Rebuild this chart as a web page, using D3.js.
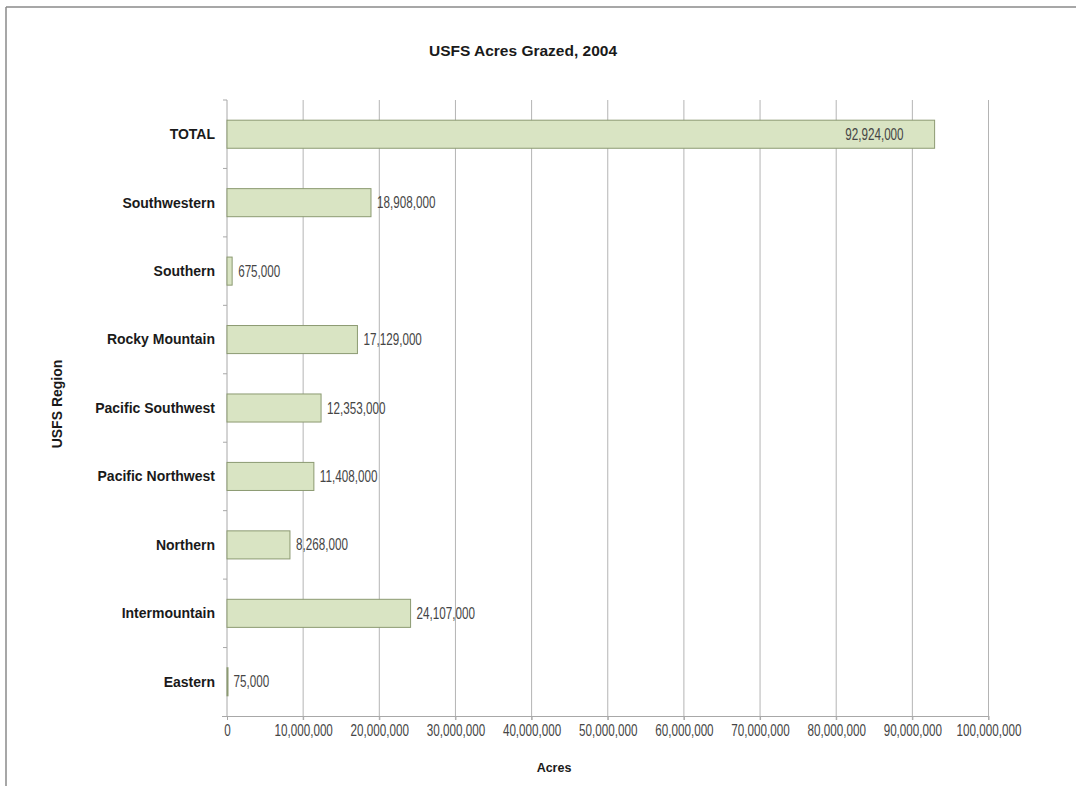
<!DOCTYPE html>
<html>
<head>
<meta charset="utf-8">
<script src="https://cdn.jsdelivr.net/npm/d3@7"></script>
<style>
  body { margin: 0; background: #fff; }
  svg { display: block; }
</style>
</head>
<body>
<svg id="chart" width="1076" height="786"></svg>
<script>
const categories = ["TOTAL", "Southwestern", "Southern", "Rocky Mountain", "Pacific Southwest", "Pacific Northwest", "Northern", "Intermountain", "Eastern"];
const acres = [92924000, 18908000, 675000, 17129000, 12353000, 11408000, 8268000, 24107000, 75000];
const xTicks = [0, 10000000, 20000000, 30000000, 40000000, 50000000, 60000000, 70000000, 80000000, 90000000, 100000000];
const title = "USFS Acres Grazed, 2004";
const xTitle = "Acres";
const yTitle = "USFS Region";

const data = categories.map((c, i) => ({ cat: c, v: acres[i] }));
const svg = d3.select("#chart");
const narrow = "'Liberation Sans',Arial,sans-serif";
const squeeze = 0.73;
const numSize = 16;
const bold = "'Liberation Sans',Arial,sans-serif";

const m = { left: 227, right: 988.5, top: 100, bottom: 716 };
const x = d3.scaleLinear().domain([0, 100000000]).range([m.left, m.right]);
const y = d3.scaleBand().domain(categories).range([m.top, m.bottom]).paddingInner(0.59).paddingOuter(0.295);
const fmt = d3.format(",");

// outer frame (top and left edges)
svg.append("line").attr("x1", 6).attr("x2", 1076).attr("y1", 7).attr("y2", 7).attr("stroke", "#8a8a8a").attr("stroke-width", 1.5);
svg.append("line").attr("x1", 6).attr("x2", 6).attr("y1", 7).attr("y2", 786).attr("stroke", "#8a8a8a").attr("stroke-width", 1.5);

// gridlines
svg.append("g").selectAll("line").data(xTicks.slice(1)).join("line")
  .attr("x1", d => x(d)).attr("x2", d => x(d))
  .attr("y1", m.top).attr("y2", m.bottom + 4)
  .attr("stroke", "#b4b4b4").attr("stroke-width", 1);

// x axis
const xAxis = svg.append("g").attr("transform", `translate(0,${m.bottom})`)
  .call(d3.axisBottom(x).tickValues(xTicks).tickFormat(fmt).tickSize(4).tickSizeOuter(0));
xAxis.select(".domain").attr("stroke", "#a8a8a8").attr("d", `M${m.left - 5},0.5H${m.right}`);
xAxis.selectAll(".tick line").attr("stroke", "#a8a8a8");
xAxis.selectAll(".tick text").attr("font-family", narrow).attr("font-size", numSize).attr("fill", "#454545")
  .attr("x", 0).attr("y", 9).attr("transform", `scale(${squeeze},1)`);

// y axis line and band ticks
svg.append("line").attr("x1", m.left).attr("x2", m.left).attr("y1", m.top).attr("y2", m.bottom)
  .attr("stroke", "#a8a8a8");
const step = y.step();
const bounds = d3.range(categories.length).map(i => m.top + i * step);
svg.append("g").selectAll("line").data(bounds).join("line")
  .attr("x1", m.left - 4).attr("x2", m.left).attr("y1", d => d).attr("y2", d => d)
  .attr("stroke", "#a8a8a8");

// category labels
svg.append("g").selectAll("text").data(categories).join("text")
  .attr("x", 215).attr("y", d => y(d) + y.bandwidth() / 2)
  .attr("dy", "0.35em").attr("text-anchor", "end")
  .attr("font-family", bold).attr("font-weight", "bold").attr("font-size", 14).attr("fill", "#1a1a1a")
  .text(d => d);

// bars
svg.append("g").selectAll("rect").data(data).join("rect")
  .attr("x", x(0)).attr("y", d => y(d.cat))
  .attr("width", d => Math.max(1, x(d.v) - x(0))).attr("height", y.bandwidth())
  .attr("fill", "#d9e4c3").attr("stroke", "#8c9a72").attr("stroke-width", 1);

// value labels
const inside = d => x(d.v) + 70 > m.right;
svg.append("g").selectAll("text").data(data).join("text")
  .attr("transform", d => `translate(${inside(d) ? x(d.v) - 31 : x(d.v) + 6},${y(d.cat) + y.bandwidth() / 2}) scale(${squeeze},1)`)
  .attr("text-anchor", d => (inside(d) ? "end" : "start"))
  .attr("dy", "0.35em")
  .attr("font-family", narrow).attr("font-size", numSize).attr("fill", "#454545")
  .text(d => fmt(d.v));

// titles
svg.append("text").attr("x", 523).attr("y", 56).attr("text-anchor", "middle")
  .attr("font-family", bold).attr("font-weight", "bold").attr("font-size", 15.5).attr("fill", "#1a1a1a").text(title);
svg.append("text").attr("x", 554).attr("y", 772).attr("text-anchor", "middle")
  .attr("font-family", bold).attr("font-weight", "bold").attr("font-size", 12.5).attr("fill", "#1a1a1a").text(xTitle);
svg.append("text").attr("transform", "translate(62,404) rotate(-90)").attr("text-anchor", "middle")
  .attr("font-family", bold).attr("font-weight", "bold").attr("font-size", 14).attr("fill", "#1a1a1a").text(yTitle);
</script>
</body>
</html>
